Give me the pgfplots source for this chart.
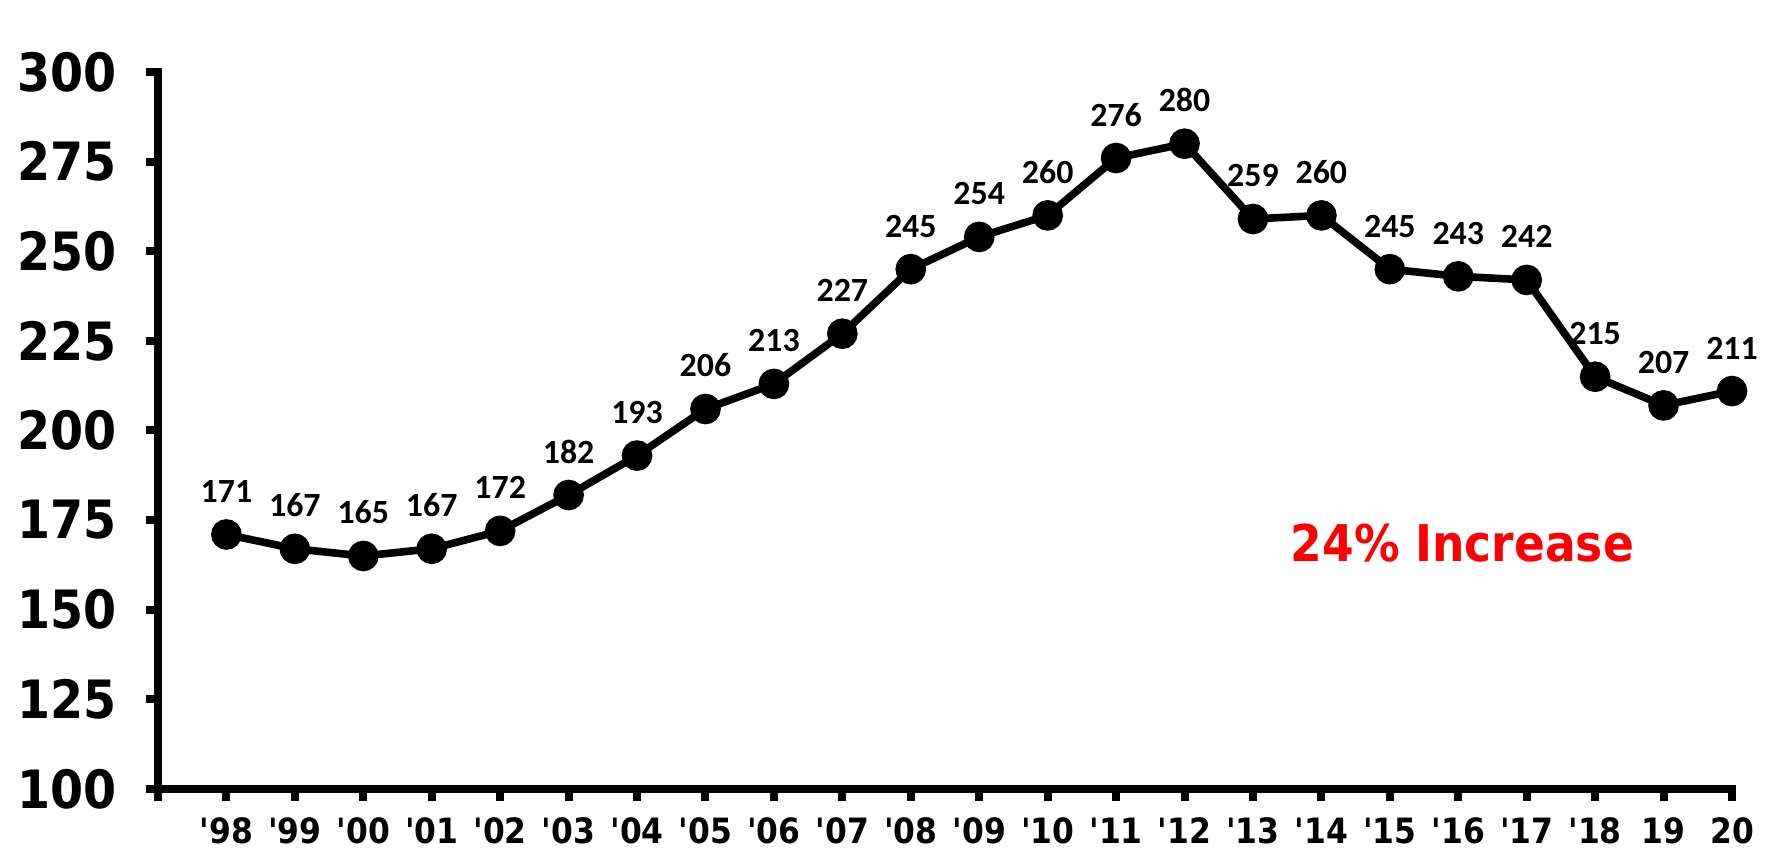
\documentclass[border=0pt]{standalone}
\usepackage{pgfplots}
\pgfplotsset{compat=1.18}
\usepackage{fontspec}
\setmainfont{DejaVu Sans}
\newfontfamily\tahoma{DejaVu Sans Condensed Bold}
\newfontfamily\calibri{Carlito}
\definecolor{incred}{RGB}{255,0,0}

\begin{document}
\begin{tikzpicture}
\begin{axis}[
  scale only axis,
  width=787bp, height=358.5bp,
  xmin=-1, xmax=22,
  ymin=100, ymax=300,
  axis x line=bottom, axis y line=left,
  axis line style={-, line width=4bp, line cap=rect},
  xtick={-1,...,22},
  xticklabels={,\textquotesingle98,\textquotesingle99,\textquotesingle00,\textquotesingle01,\textquotesingle02,\textquotesingle03,\textquotesingle04,\textquotesingle05,\textquotesingle06,\textquotesingle07,\textquotesingle08,\textquotesingle09,\textquotesingle10,\textquotesingle11,\textquotesingle12,\textquotesingle13,\textquotesingle14,\textquotesingle15,\textquotesingle16,\textquotesingle17,\textquotesingle18,19,20},
  ytick={100,125,...,300},
  tick align=outside,
  major tick length=6bp,
  tick style={line width=4bp, black},
  /pgf/number format/assume math mode=true,
  xticklabel style={font=\tahoma\fontsize{17.5}{17.5}\selectfont, yshift=-5bp},
  yticklabel style={font=\tahoma\fontsize{26.5}{26.5}\selectfont, xshift=-11bp},
  clip=false,
  nodes near coords,
  every node near coord/.append style={font=\calibri\bfseries\fontsize{17}{17}\selectfont, anchor=base, yshift=16bp, black},
]
\addplot[black, line width=3.8bp, mark=*, mark size=5.75bp, mark options={solid}] coordinates {
  (0,171) (1,167) (2,165) (3,167) (4,172) (5,182) (6,193) (7,206)
  (8,213) (9,227) (10,245) (11,254) (12,260) (13,276) (14,280)
  (15,259) (16,260) (17,245) (18,243) (19,242) (20,215) (21,207) (22,211)
};
\node[font=\tahoma\fontsize{25.4}{25.4}\selectfont, text=incred] at (axis cs:18.06,168.6) {24\% Increase};
\end{axis}
\path (-79bp,-32bp) rectangle (805bp,394.5bp);
\end{tikzpicture}
\end{document}
